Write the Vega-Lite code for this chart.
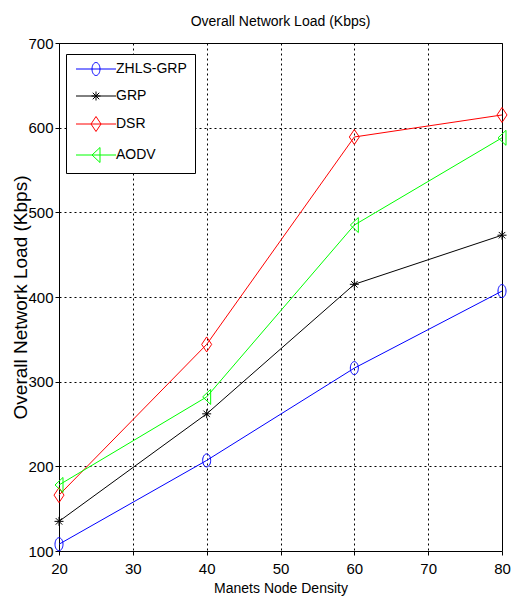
{
  "$schema": "https://vega.github.io/schema/vega-lite/v6.json",
  "width": 443,
  "height": 508,
  "autosize": {"type": "none"},
  "padding": {"left": 59, "top": 43, "right": 12, "bottom": 52},
  "background": "white",
  "title": {
    "text": "Overall Network Load (Kbps)",
    "font": "Liberation Sans",
    "fontSize": 14,
    "fontWeight": "normal",
    "color": "black",
    "anchor": "middle",
    "frame": "group",
    "offset": 7
  },
  "config": {
    "view": {"stroke": "black", "strokeWidth": 1},
    "axis": {
      "labelFont": "Liberation Sans",
      "labelFontSize": 15,
      "labelColor": "black",
      "titleColor": "black",
      "titleFontWeight": "normal",
      "domain": false,
      "tickColor": "black",
      "tickSize": 4,
      "grid": true,
      "gridColor": "black",
      "gridOpacity": 1,
      "gridDash": [2, 3],
      "gridWidth": 1
    },
    "legend": {
      "labelFont": "Liberation Sans",
      "labelFontSize": 14,
      "labelColor": "black"
    }
  },
  "data": {
    "values": [
      {"density": 20, "load": 108, "series": "ZHLS-GRP"},
      {"density": 40, "load": 207, "series": "ZHLS-GRP"},
      {"density": 60, "load": 316, "series": "ZHLS-GRP"},
      {"density": 80, "load": 407, "series": "ZHLS-GRP"},
      {"density": 20, "load": 135, "series": "GRP"},
      {"density": 40, "load": 262, "series": "GRP"},
      {"density": 60, "load": 415, "series": "GRP"},
      {"density": 80, "load": 473, "series": "GRP"},
      {"density": 20, "load": 166, "series": "DSR"},
      {"density": 40, "load": 344, "series": "DSR"},
      {"density": 60, "load": 589, "series": "DSR"},
      {"density": 80, "load": 615, "series": "DSR"},
      {"density": 20, "load": 178, "series": "AODV"},
      {"density": 40, "load": 282, "series": "AODV"},
      {"density": 60, "load": 485, "series": "AODV"},
      {"density": 80, "load": 588, "series": "AODV"}
    ]
  },
  "encoding": {
    "x": {
      "field": "density",
      "type": "quantitative",
      "scale": {"domain": [20, 80], "nice": false, "zero": false},
      "axis": {
        "values": [20, 30, 40, 50, 60, 70, 80],
        "title": "Manets Node Density",
        "titleFont": "Liberation Sans",
        "titleFontSize": 14,
        "labelPadding": 6,
        "titlePadding": 5,
        "labelFlush": false
      }
    },
    "y": {
      "field": "load",
      "type": "quantitative",
      "scale": {"domain": [100, 700], "nice": false, "zero": false},
      "axis": {
        "values": [100, 200, 300, 400, 500, 600, 700],
        "title": "Overall Network Load (Kbps)",
        "titleFont": "Liberation Sans",
        "titleFontSize": 19,
        "labelPadding": 2,
        "titlePadding": -3,
        "labelFlush": false
      }
    }
  },
  "layer": [
    {
      "mark": {"type": "line", "strokeWidth": 1},
      "encoding": {
        "color": {
          "field": "series",
          "type": "nominal",
          "scale": {
            "domain": ["ZHLS-GRP", "GRP", "DSR", "AODV"],
            "range": ["#0000ff", "#000000", "#ff0000", "#00ff00"]
          },
          "legend": null
        }
      }
    },
    {
      "mark": {"type": "point", "filled": false, "size": 100, "strokeWidth": 1, "opacity": 1},
      "encoding": {
        "color": {
          "field": "series",
          "type": "nominal",
          "scale": {
            "domain": ["ZHLS-GRP", "GRP", "DSR", "AODV"],
            "range": ["#0000ff", "#000000", "#ff0000", "#00ff00"]
          },
          "legend": null
        },
        "shape": {
          "field": "series",
          "type": "nominal",
          "scale": {
            "domain": ["ZHLS-GRP", "GRP", "DSR", "AODV"],
            "range": [
              "M-0.8,0A0.8,1.3 0 1,0 0.8,0A0.8,1.3 0 1,0 -0.8,0",
              "M-0.9,0L0.9,0M0,-0.9L0,0.9M-0.65,-0.65L0.65,0.65M-0.65,0.65L0.65,-0.65",
              "M0,-1.5L1,0L0,1.5L-1,0Z",
              "M-0.8,0L0.8,-1.5L0.8,1.5Z"
            ]
          },
          "legend": null
        }
      }
    },
    {
      "mark": {"type": "point", "filled": false, "size": 100, "strokeWidth": 1, "opacity": 0},
      "encoding": {
        "color": {
          "field": "series",
          "type": "nominal",
          "scale": {
            "domain": ["ZHLS-GRP", "GRP", "DSR", "AODV"],
            "range": ["#0000ff", "#000000", "#ff0000", "#00ff00"]
          },
          "legend": {
            "title": null,
            "orient": "none",
            "legendX": 7,
            "legendY": 11,
            "strokeColor": "black",
            "fillColor": "white",
            "padding": 8,
            "rowPadding": 11,
            "labelOffset": 28,
            "symbolSize": 100,
            "symbolOpacity": 1,
            "symbolStrokeWidth": 1
          }
        },
        "shape": {
          "field": "series",
          "type": "nominal",
          "scale": {
            "domain": ["ZHLS-GRP", "GRP", "DSR", "AODV"],
            "range": [
              "M-1,0L7,0M2.2,0A0.8,1.3 0 1,0 3.8,0A0.8,1.3 0 1,0 2.2,0",
              "M-1,0L7,0M2.1,0L3.9,0M3,-0.9L3,0.9M2.35,-0.65L3.65,0.65M2.35,0.65L3.65,-0.65",
              "M-1,0L7,0M3,-1.5L4,0L3,1.5L2,0Z",
              "M-1,0L7,0M2.2,0L3.8,-1.5L3.8,1.5Z"
            ]
          },
          "legend": {
            "title": null,
            "orient": "none",
            "legendX": 7,
            "legendY": 11,
            "strokeColor": "black",
            "fillColor": "white",
            "padding": 8,
            "rowPadding": 11,
            "labelOffset": 28,
            "symbolSize": 100,
            "symbolOpacity": 1,
            "symbolStrokeWidth": 1
          }
        }
      }
    }
  ],
  "resolve": {"scale": {"shape": "independent", "color": "independent"}}
}
